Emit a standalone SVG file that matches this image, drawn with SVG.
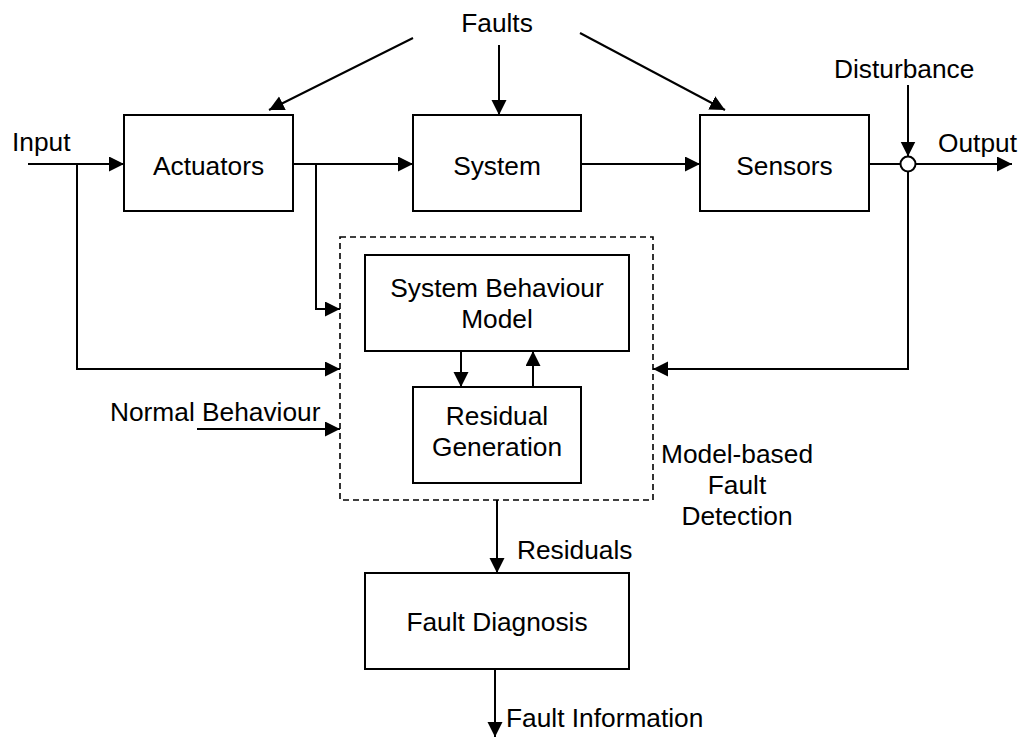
<svg xmlns="http://www.w3.org/2000/svg" width="1021" height="737" viewBox="0 0 1021 737">
  <style>
    .box { fill: #fff; stroke: #000; stroke-width: 2; }
    .frame { fill: none; stroke: #000; stroke-width: 1.6; stroke-dasharray: 6 4; }
    .wire { fill: none; stroke: #000; stroke-width: 2; }
    .arrow { marker-end: url(#head); }
    text { font-family: "Liberation Sans", Arial, sans-serif; font-size: 26.3px; fill: #000; }
    .c { text-anchor: middle; }
  </style>
  <defs>
    <marker id="head" markerUnits="userSpaceOnUse" markerWidth="16" markerHeight="16" refX="15" refY="7.5" orient="auto">
      <path d="M0,0 L15,7.5 L0,15 z" fill="#000"/>
    </marker>
  </defs>

  <rect id="bg" width="1021" height="737" fill="#fff"/>

  <!-- dashed detection frame -->
  <g id="detection">
    <rect class="frame" x="340" y="237" width="313" height="263"/>
    <text class="c" x="737" y="463">Model-based</text>
    <text class="c" x="737" y="494">Fault</text>
    <text class="c" x="737" y="525">Detection</text>
  </g>

  <g id="connectors">
    <!-- faults -->
    <line class="wire arrow" x1="413" y1="38" x2="269" y2="110"/>
    <line class="wire arrow" x1="499" y1="45" x2="499" y2="115"/>
    <line class="wire arrow" x1="580" y1="33" x2="725" y2="110"/>
    <!-- main signal path -->
    <line class="wire arrow" x1="28" y1="164" x2="124" y2="164"/>
    <line class="wire arrow" x1="293" y1="164" x2="413" y2="164"/>
    <line class="wire arrow" x1="581" y1="164" x2="700" y2="164"/>
    <line class="wire" x1="869" y1="164" x2="900.5" y2="164"/>
    <line class="wire arrow" x1="908" y1="85" x2="908" y2="156.5"/>
    <line class="wire arrow" x1="915.5" y1="164" x2="1012" y2="164"/>
    <!-- feeds into detection -->
    <polyline class="wire arrow" points="316,164 316,309 340,309"/>
    <polyline class="wire arrow" points="77,164 77,369 340,369"/>
    <line class="wire arrow" x1="197" y1="429" x2="340" y2="429"/>
    <polyline class="wire arrow" points="908,171.5 908,369 653,369"/>
    <!-- inner loop -->
    <line class="wire arrow" x1="461" y1="351" x2="461" y2="387"/>
    <line class="wire arrow" x1="533" y1="387" x2="533" y2="351"/>
    <!-- outputs -->
    <line class="wire arrow" x1="497" y1="500" x2="497" y2="573"/>
    <line class="wire arrow" x1="495" y1="669" x2="495" y2="737"/>
  </g>

  <g id="sum">
    <circle cx="908" cy="164" r="7.5" fill="#fff" stroke="#000" stroke-width="2"/>
  </g>

  <g id="actuators">
    <rect class="box" x="124" y="115" width="169" height="96"/>
    <text class="c" x="208.5" y="175">Actuators</text>
  </g>
  <g id="system">
    <rect class="box" x="413" y="115" width="168" height="96"/>
    <text class="c" x="497" y="175">System</text>
  </g>
  <g id="sensors">
    <rect class="box" x="700" y="115" width="169" height="96"/>
    <text class="c" x="784.5" y="175">Sensors</text>
  </g>
  <g id="model">
    <rect class="box" x="365" y="255" width="264" height="96"/>
    <text class="c" x="497" y="297">System Behaviour</text>
    <text class="c" x="497" y="328">Model</text>
  </g>
  <g id="residual">
    <rect class="box" x="413" y="387" width="168" height="96"/>
    <text class="c" x="497" y="425">Residual</text>
    <text class="c" x="497" y="456">Generation</text>
  </g>
  <g id="diagnosis">
    <rect class="box" x="365" y="573" width="264" height="96"/>
    <text class="c" x="497" y="631">Fault Diagnosis</text>
  </g>

  <g id="labels">
    <text class="c" x="497" y="32">Faults</text>
    <text x="12" y="151">Input</text>
    <text x="834" y="78">Disturbance</text>
    <text x="938" y="152">Output</text>
    <text x="110" y="421">Normal Behaviour</text>
    <text x="517" y="559">Residuals</text>
    <text x="506" y="727">Fault Information</text>
  </g>
</svg>
